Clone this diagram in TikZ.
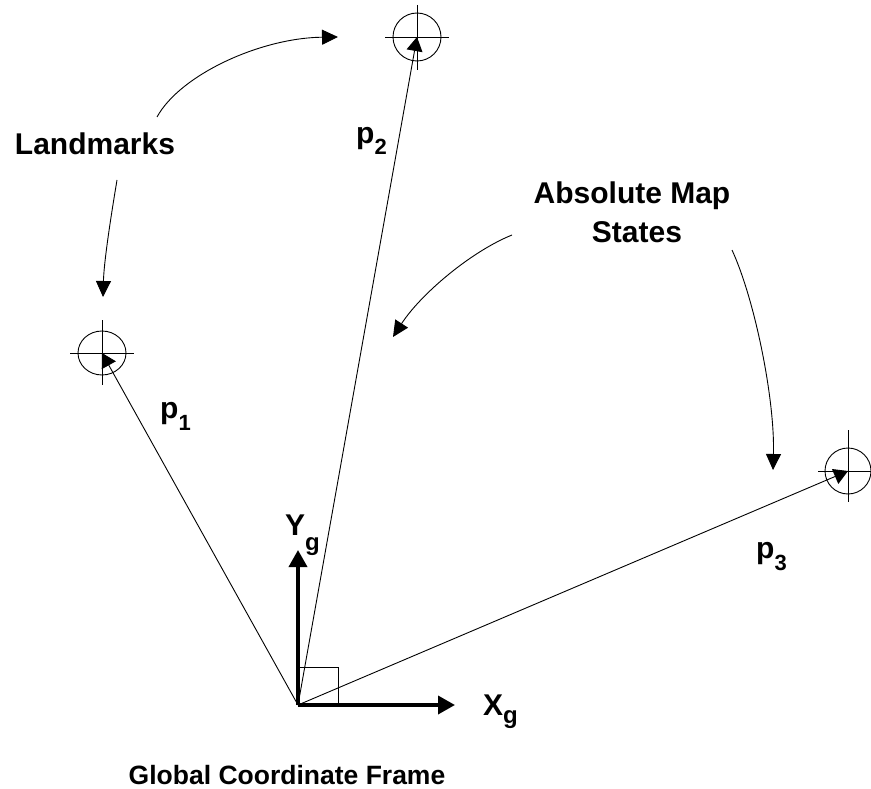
\documentclass[tikz,border=0pt]{standalone}
\usepackage{fontspec}
\setmainfont{Liberation Sans}
\usetikzlibrary{arrows.meta}
\newcommand{\subl}[3]{\raisebox{-#1pt}{\fontsize{#2}{#2}\selectfont #3}}
\begin{document}
\begin{tikzpicture}[x=1pt,y=-1pt,
  thinline/.style={line width=0.9pt},
  axisline/.style={line width=3.6pt,-{Triangle[length=17pt,width=18pt]}},
  ray/.style={line width=0.9pt,-{Triangle[length=14pt,width=16pt]}},
  callout/.style={line width=0.9pt,-{Triangle[length=16pt,width=15pt]}},
  lbl/.style={font=\fontsize{30}{36}\selectfont\bfseries,inner sep=0pt}]
\useasboundingbox (0,0) rectangle (871,789);
\clip (0,0) rectangle (871,789);

% landmarks
\coordinate (L1) at (102,353);
\coordinate (L2) at (417,37);
\coordinate (L3) at (848,471);
\draw[thinline] (L1) ellipse [x radius=24, y radius=22];
\draw[thinline] (L1) +(-32,0) -- +(32,0) +(0,-33) -- +(0,32);
\draw[thinline] (L2) circle [radius=24];
\draw[thinline] (L2) +(-32,0) -- +(32,0) +(0,-32) -- +(0,33);
\draw[thinline] (L3) circle [radius=23];
\draw[thinline] (L3) +(-30,0) -- +(32,0) +(0,-41) -- +(0,31);

% origin and axes
\coordinate (O) at (298,705);
\coordinate (XE) at (455,705);
\coordinate (YE) at (298,550);
\draw[thinline] (O) rectangle +(40,-38);
\draw[ray] (O) -- (L1);
\draw[ray] (O) -- (L2);
\draw[ray] (O) -- (L3);
\draw[axisline] (O) -- (XE);
\draw[axisline] (O) -- (YE);

% labels
\node[lbl,anchor=base] (landmarks) at (95,155) {Landmarks};
\node[lbl,anchor=base] (ams1) at (632,204) {Absolute Map};
\node[lbl,anchor=base] (ams2) at (637,243) {States};
\node[lbl,font=\fontsize{26.5}{32}\selectfont\bfseries,anchor=base] (gcf) at (287,784) {Global Coordinate Frame};
\node[lbl,anchor=base west] (p2) at (356,144) {p\subl{11}{22}{2}};
\node[lbl,anchor=base west] (p1) at (160,418) {p\subl{12}{22}{1}};
\node[lbl,anchor=base west] (p3) at (756,558) {p\subl{12}{22}{3}};
\node[lbl,anchor=base west] (yg) at (285,535) {Y\subl{15}{24}{g}};
\node[lbl,anchor=base west] (xg) at (483,715) {X\subl{8}{24}{g}};

% callout arrows
\coordinate (c1s) at (157,117);
\coordinate (c1e) at (338,37);
\coordinate (c2s) at (117,180);
\coordinate (c2e) at (103,297);
\coordinate (c3s) at (512,235);
\coordinate (c3e) at (393,337);
\coordinate (c4s) at (732,250);
\coordinate (c4e) at (773,470);
\draw[callout] (c1s) .. controls (180,75) and (260,38) .. (c1e);
\draw[callout] (c2s) .. controls (112,210) and (104,260) .. (c2e);
\draw[callout] (c3s) .. controls (470,252) and (420,295) .. (c3e);
\draw[callout] (c4s) .. controls (755,300) and (775,400) .. (c4e);
\end{tikzpicture}
\end{document}
